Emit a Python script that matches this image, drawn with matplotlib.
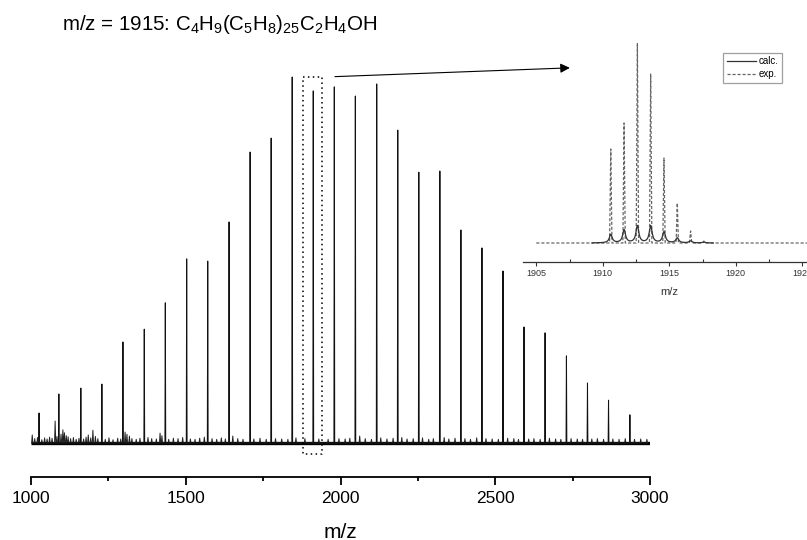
import matplotlib
matplotlib.use("Agg")
import matplotlib.pyplot as plt
import numpy as np

plt.rcParams['font.family'] = ['Liberation Sans', 'DejaVu Sans']
plt.rcParams['mathtext.fontset'] = 'custom'
plt.rcParams['mathtext.rm'] = 'Liberation Sans'
plt.rcParams['mathtext.it'] = 'Liberation Sans:italic'

# ---------------- data ----------------
title = "m/z = 1915: C$_4$H$_9$(C$_5$H$_8$)$_{25}$C$_2$H$_4$OH"

# main spectrum: oligomer peaks (m/z, relative intensity %)
peak_mz = [1026, 1090, 1161, 1229, 1297, 1366, 1434, 1503, 1571, 1640, 1708,
           1776, 1844, 1912, 1980, 2048, 2117, 2185, 2253, 2321, 2389, 2457,
           2525, 2593, 2661, 2730, 2798, 2866, 2935]
peak_int = [8.2, 13.4, 15.0, 16.1, 27.6, 31.1, 38.3, 50.3, 49.7, 60.4, 79.5,
            83.3, 100.0, 96.2, 97.3, 94.8, 98.1, 85.5, 74.0, 74.3, 58.2, 53.3,
            47.0, 31.7, 30.1, 23.8, 16.4, 11.7, 7.7]

# small side peaks / baseline noise
noise_mz = [1004, 1012, 1021, 1035, 1044, 1052, 1060, 1068, 1078, 1084, 1097,
            1103, 1108, 1114, 1120, 1128, 1137, 1146, 1155, 1170, 1178, 1185,
            1193, 1200, 1208, 1216, 1240, 1252, 1265, 1280, 1290, 1304, 1310,
            1318, 1326, 1340, 1352, 1378, 1390, 1405, 1417, 1423, 1445, 1460,
            1475, 1490, 1515, 1530, 1545, 1560, 1585, 1600, 1615, 1628, 1652,
            1668, 1685, 1720, 1740, 1760, 1790, 1810, 1830, 1856, 1885, 1930,
            1960, 1995, 2015, 2030, 2062, 2080, 2100, 2130, 2150, 2170, 2198,
            2215, 2235, 2265, 2285, 2300, 2335, 2350, 2370, 2402, 2420, 2440,
            2470, 2490, 2510, 2540, 2560, 2575, 2608, 2625, 2645, 2675, 2695,
            2712, 2745, 2765, 2782, 2812, 2830, 2850, 2880, 2900, 2920, 2950,
            2970, 2990]
noise_int = [2.2, 1.2, 1.5, 0.9, 1.4, 1.1, 1.6, 1.3, 6.0, 1.8, 2.4,
             3.6, 2.8, 2.0, 1.7, 1.2, 1.5, 1.0, 1.3, 1.1, 1.6, 2.2,
             1.4, 3.5, 1.8, 1.2, 1.0, 1.4, 0.9, 1.3, 1.1, 3.0, 2.4,
             1.9, 1.2, 1.0, 1.3, 1.5, 1.2, 1.1, 2.7, 2.0, 1.0, 1.3,
             1.2, 1.5, 1.1, 1.0, 1.3, 1.6, 1.2, 1.0, 1.4, 1.1, 1.9,
             1.2, 1.0, 1.1, 1.3, 1.0, 1.2, 1.1, 1.0, 1.4, 1.2, 1.1,
             1.0, 1.2, 1.1, 1.3, 1.9, 1.2, 1.0, 1.4, 1.1, 1.3, 1.5,
             1.1, 1.2, 1.4, 1.0, 1.2, 1.5, 1.1, 1.3, 1.2, 1.0, 1.4,
             1.2, 1.1, 1.0, 1.3, 1.2, 1.0, 1.1, 1.2, 1.0, 1.3, 1.1,
             1.0, 1.2, 1.1, 1.0, 1.1, 1.2, 1.0, 1.1, 1.0, 1.2, 1.0,
             1.1, 1.0]

# inset: isotope pattern of m/z 1915 cluster (relative intensity %)
iso_mz = [1910.6, 1911.6, 1912.6, 1913.6, 1914.6, 1915.6, 1916.6, 1917.6]
exp_int = [47.0, 60.0, 100.0, 84.5, 42.5, 20.0, 6.0, 1.0]
calc_int = [4.2, 6.5, 8.5, 8.5, 5.5, 2.5, 1.0, 0.4]

main_ticks = [1000, 1500, 2000, 2500, 3000]
inset_ticks = [1905, 1910, 1915, 1920, 1925]

# ---------------- figure ----------------
W, H = 807, 540
fig = plt.figure(figsize=(W / 100, H / 100), dpi=100)


def fx(px):
    return px / W


def fy(py):
    return 1 - py / H


def spikes(centers, heights, hw):
    xs, ys = [], []
    for c, h in sorted(zip(centers, heights)):
        xs += [c - hw, c, c + hw]
        ys += [0, h, 0]
    return xs, ys


# main axes
ax = fig.add_axes([fx(31), fy(477), fx(650) - fx(31), fy(60) - fy(477)])
ax.set_xlim(1000, 3000)
ymin = -34 / 3.66
ax.set_ylim(ymin, ymin + 417 / 3.66)

ax.plot([1000, 3000], [0, 0], color='black', lw=2.4, solid_capstyle='butt')
nx, ny = spikes(noise_mz, noise_int, 2.0)
ax.plot(nx, ny, color='#222222', lw=0.7)
px_, py_ = spikes(peak_mz, peak_int, 1.2)
ax.plot(px_, py_, color='#111111', lw=0.75)

for s in ['left', 'right', 'top']:
    ax.spines[s].set_visible(False)
ax.spines['bottom'].set_linewidth(1.3)
ax.set_yticks([])
ax.set_xticks(main_ticks)
ax.set_xticks([1250, 1750, 2250, 2750], minor=True)
ax.tick_params(axis='x', which='major', direction='out', length=6, width=1.3,
               labelsize=12.5, pad=4)
ax.tick_params(axis='x', which='minor', direction='out', length=3, width=1.3)
ax.set_xlabel('m/z', fontsize=15)
ax.xaxis.set_label_coords(0.5, (477 - 532) / 417)
ax.xaxis.label.set_va('center')

# dotted selection box
bx0, bx1 = 1879, 1940
by0, by1 = -2.9, 100.1
ax.plot([bx0, bx1, bx1, bx0, bx0], [by1, by1, by0, by0, by1], color='black',
        lw=1.1, linestyle=(0, (1, 2.2)), clip_on=False)

# arrow towards inset
ax.annotate('', xy=(2741, 102.5), xytext=(1982, 100.1),
            xycoords='data', textcoords='data', annotation_clip=False,
            arrowprops=dict(arrowstyle='-|>', color='black', lw=0.8,
                            mutation_scale=14, shrinkA=0, shrinkB=0))

# title
fig.text(fx(62), fy(25), title, fontsize=14.8, ha='left', va='center')

# ---------------- inset ----------------
ix0, ixw = 523, 22 * 13.3
ia = fig.add_axes([fx(ix0), fy(261.5), ixw / W, fy(40) - fy(261.5)])
ia.set_xlim(1904, 1926)
iymin = -18.5 / 2
ia.set_ylim(iymin, iymin + 221.5 / 2)
ia.patch.set_alpha(0)

ex, ey = spikes(iso_mz, exp_int, 0.09)
ex = [1905] + ex + [1926]
ey = [0] + ey + [0]
ia.plot(ex, ey, color='#666666', lw=0.9, linestyle=(0, (2.5, 1.5)), label='exp.')

grid = np.linspace(1909.2, 1918.3, 900)
g = 0.13
calc = np.zeros_like(grid)
for c, h in zip(iso_mz, calc_int):
    calc += h * g ** 2 / ((grid - c) ** 2 + g ** 2)
ia.plot(grid, calc, color='#333333', lw=0.9, label='calc.')

for s in ['left', 'right', 'top']:
    ia.spines[s].set_visible(False)
ia.spines['bottom'].set_linewidth(0.9)
ia.spines['bottom'].set_color('#333333')
ia.set_yticks([])
ia.set_xticks(inset_ticks)
ia.set_xticks([1907.5, 1912.5, 1917.5, 1922.5], minor=True)
ia.tick_params(axis='x', which='major', direction='out', length=3, width=0.8,
               labelsize=6.5, pad=2.5, colors='#333333')
ia.tick_params(axis='x', which='minor', direction='in', length=2, width=0.8,
               colors='#333333')
ia.set_xlabel('m/z', fontsize=8, color='#333333')
ia.xaxis.set_label_coords(0.5, (261.5 - 292) / 221.5)
ia.xaxis.label.set_va('center')

handles, labels = ia.get_legend_handles_labels()
leg = ia.legend(handles[::-1], labels[::-1], loc='upper right',
                bbox_to_anchor=(fx(782), fy(53)), bbox_transform=fig.transFigure,
                fontsize=7, frameon=True, fancybox=False, handlelength=3.0,
                handletextpad=0.3, borderpad=0.35, labelspacing=0.3,
                borderaxespad=0)
leg.get_frame().set_edgecolor('#888888')
leg.get_frame().set_linewidth(0.9)

fig.savefig('out.png', dpi=100)
